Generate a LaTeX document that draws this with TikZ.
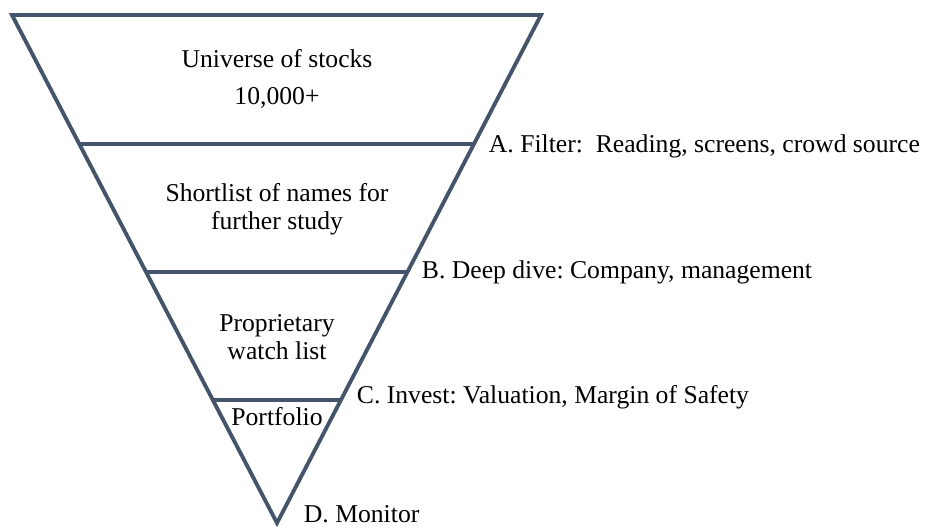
\documentclass[tikz,border=0pt]{standalone}
\usepackage{fontspec}
\setmainfont{LiberationSerif}[Extension=.ttf,UprightFont=*-Regular,BoldFont=*-Bold]
\definecolor{funnelgray}{HTML}{44546A}
\frenchspacing
\newcommand{\stagetxt}[3][]{\node[align=center,font=\fontsize{14.6}{15.8}\selectfont,#1] at (#2) (#3)}
\newcommand{\steplbl}[3][]{\node[anchor=west,inner sep=0pt,font=\fontsize{14.6}{18}\selectfont,#1] at (#2) (#3)}

\begin{document}
\begin{tikzpicture}[x=0.02cm,y=-0.02cm,line width=2.2pt,line join=miter]
			\useasboundingbox (0,0) rectangle (935,527);
			% funnel corners
			\coordinate (tl) at (12,15);
			\coordinate (tr) at (541,15);
			\coordinate (apex) at (277,523);
			\draw[funnelgray] (tl) -- (tr) -- (apex) -- cycle;
			
			% dividing lines
			\coordinate (a-l) at (80,144);
			\coordinate (a-r) at (474,144);
			\coordinate (b-l) at (146,272);
			\coordinate (b-r) at (408,272);
			\coordinate (c-l) at (213,400);
			\coordinate (c-r) at (341,400);
			\draw[funnelgray] (a-l) -- (a-r);
			\draw[funnelgray] (b-l) -- (b-r);
			\draw[funnelgray] (c-l) -- (c-r);
			
			\stagetxt{277,79}{universe}{Universe of stocks\\[5pt]10,000+};
			\stagetxt{277,209}{shortlist}{Shortlist of names for\\further study};
			\stagetxt{277,337}{watch}{Proprietary\\watch list};
			\stagetxt[inner sep=0pt]{277,417}{portf}{Portfolio};
			
			\steplbl{487,146}{filter}{A. Filter:\ \ Reading, screens, crowd source};
			\steplbl{420,272}{dive}{B. Deep dive: Company, management};
			\steplbl{355,397}{invest}{C. Invest: Valuation, Margin of Safety};
			\steplbl{302,514}{monitor}{D. Monitor};
			
			\end{tikzpicture}
\end{document}
